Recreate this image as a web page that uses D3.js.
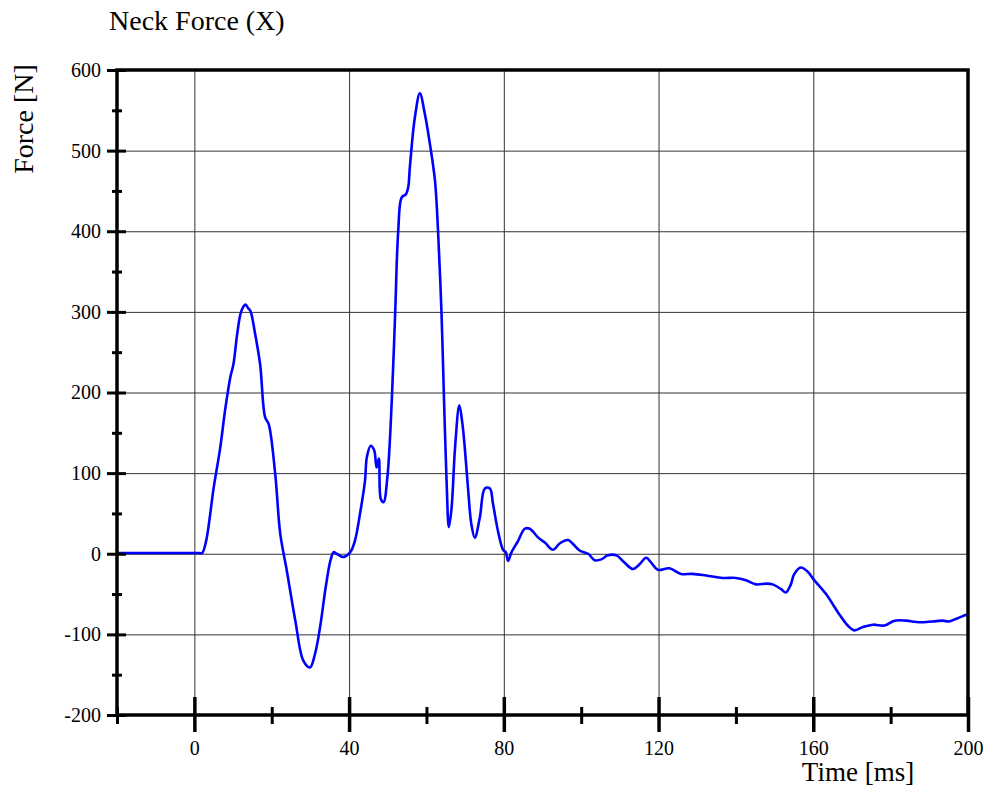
<!DOCTYPE html>
<html>
<head>
<meta charset="utf-8">
<script src="https://cdn.jsdelivr.net/npm/d3@7"></script>
<style>
    body { margin: 0; background: #fff; }
    text { font-family: 'Liberation Serif', 'Times New Roman', serif; fill: #000; }
    .axis path, .axis line { stroke: #000; }
</style>
</head>
<body>
<div id="chart"></div>
<script>

// DATA

const time_ms = [
    -20, -15, -10, -5, 0, 1, 2, 3, 5, 6.7, 8, 9.3, 10.1, 11, 11.9, 12.5, 13.2, 14, 14.5, 15.7, 17, 18.3, 19.2, 20.9, 22.2,
    23.9, 26.1, 28.2, 29.9, 31.2, 32.5, 34, 35.2, 36, 36.8, 38.5, 40.3, 41.5, 42.8, 44.1, 44.6, 45.6,
    46.5, 47.1, 47.7, 48.2, 48.9, 49.9, 51, 51.9, 52.7, 53.6, 54.7, 55.3, 55.7, 57, 58.3, 59.6, 60.9,
    62.2, 63, 63.9, 64.5, 65.2, 65.8, 66.5, 67.4, 68.5, 69.3, 69.9, 70.8, 71.6, 72.5, 73.8, 75.1, 76.4,
    77.2, 78.5, 79.8, 80.5, 81.1, 82, 83.7, 85.4, 86.7, 88.9, 90.6, 92.7, 94.5, 96.6, 97.9, 99.6, 101.8,
    103.5, 105.2, 106.9, 109.1, 111.2, 113.4, 115.1, 116.8, 118.1, 119.8, 122.8, 125.8, 128.8, 132.3,
    136.6, 140, 142.6, 145.2, 147.8, 149.5, 151.7, 152.9, 154.2, 155.1, 156.8, 158.5, 160.3, 163.3,
    166.7, 168.9, 170.6, 172.8, 175.4, 178.4, 181, 184, 187.4, 190.8, 193.4, 195.1, 197.3, 199.4, 200
];

const force_n = [
    1, 1, 1, 1, 1, 1, 1, 15, 82, 132, 180, 219, 235, 270, 297, 305, 309, 304, 301, 273, 235, 169, 161, 99, 25,
    -21, -83, -133, -141, -124, -91, -40, -8, 2, 0, -4, 2, 16, 49, 90, 120, 134,
    128, 107, 118, 68, 64, 95, 186, 297, 400, 442, 446, 455, 479, 541, 571, 545, 508,
    463, 400, 297, 198, 90, 33, 57, 132, 184, 161, 132, 78, 37, 20, 45, 81, 81,
    62, 28, 5, 2, -9, 2, 16, 31, 31, 20, 14, 5, 13, 17, 12, 4, 0,
    -8, -7, -2, -2, -11, -19, -13, -5, -11, -20, -18, -25, -25, -27,
    -30, -30, -33, -38, -37, -38, -44, -48, -38, -25, -17, -22, -33, -50,
    -75, -89, -95, -91, -88, -89, -83, -83, -85, -84, -83, -84, -80, -76, -75
];

const x_major = [0, 40, 80, 120, 160, 200];
const x_minor = [-20, 20, 60, 100, 140, 180];
const y_major = [-200, -100, 0, 100, 200, 300, 400, 500, 600];
const y_minor = [-150, -50, 50, 150, 250, 350, 450, 550];

// CONFIG

const width = 985,
    height = 787;

const plot = {
    left: 117,
    right: 968,
    top: 70,
    bottom: 715
};

const serif = "'Liberation Serif', 'Times New Roman', serif";

const svg = d3.select('#chart')
    .append('svg')
    .attr('width', width)
    .attr('height', height);

const x_scale = d3.scaleLinear()
    .domain([-20, 200])
    .range([plot.left, plot.right]);

const y_scale = d3.scaleLinear()
    .domain([-200, 600])
    .range([plot.bottom, plot.top]);

// GRID

svg.append('g')
    .selectAll('line')
    .data(x_major.filter((d) => d > -20 && d < 200))
    .enter()
    .append('line')
    .attr('x1', (d) => x_scale(d) + 0.5)
    .attr('x2', (d) => x_scale(d) + 0.5)
    .attr('y1', plot.top)
    .attr('y2', plot.bottom)
    .style('stroke', '#333')
    .style('stroke-width', 1);

svg.append('g')
    .selectAll('line')
    .data(y_major.filter((d) => d > -200 && d < 600))
    .enter()
    .append('line')
    .attr('y1', (d) => y_scale(d) + 0.5)
    .attr('y2', (d) => y_scale(d) + 0.5)
    .attr('x1', plot.left)
    .attr('x2', plot.right)
    .style('stroke', '#333')
    .style('stroke-width', 1);

// CURVE

const line = d3.line()
    .x((d) => x_scale(d[0]))
    .y((d) => y_scale(d[1]))
    .curve(d3.curveCatmullRom.alpha(0.5));

svg.append('path')
    .datum(d3.zip(time_ms, force_n))
    .attr('d', line)
    .style('fill', 'none')
    .style('stroke', '#0000ff')
    .style('stroke-width', 2.6)
    .style('stroke-linejoin', 'round');

// FRAME

svg.append('rect')
    .attr('x', plot.left)
    .attr('y', plot.top)
    .attr('width', plot.right - plot.left)
    .attr('height', plot.bottom - plot.top)
    .style('fill', 'none')
    .style('stroke', '#000')
    .style('stroke-width', 3.5);

// TICKS

const tick_group = (axis, tx, ty, w) => {
    const g = svg.append('g')
        .attr('class', 'axis')
        .attr('transform', `translate(${tx}, ${ty})`)
        .call(axis);
    g.select('.domain').remove();
    g.attr('font-family', null);
    g.selectAll('line').style('stroke-width', w);
    g.selectAll('text')
        .style('font-family', serif)
        .style('font-size', '20px');
    return g;
}

// y major: out 10, in 9
tick_group(
    d3.axisLeft(y_scale).tickValues(y_major).tickSizeInner(10).tickSizeOuter(0).tickPadding(6).tickFormat((d) => String(d)),
    plot.left, 0, 3);

tick_group(d3.axisRight(y_scale).tickValues(y_major).tickSize(9).tickFormat(''), plot.left, 0, 3);
tick_group(d3.axisLeft(y_scale).tickValues(y_minor).tickSize(5).tickFormat(''), plot.left, 0, 3);
tick_group(d3.axisRight(y_scale).tickValues(y_minor).tickSize(5).tickFormat(''), plot.left, 0, 3);

// x major: up 18, down 17
tick_group(
    d3.axisBottom(x_scale).tickValues(x_major).tickSizeInner(17).tickSizeOuter(0).tickPadding(9).tickFormat((d) => String(d)),
    0, plot.bottom, 3.5);

tick_group(d3.axisTop(x_scale).tickValues(x_major).tickSize(18).tickFormat(''), 0, plot.bottom, 3.5);
tick_group(d3.axisBottom(x_scale).tickValues(x_minor).tickSize(9).tickFormat(''), 0, plot.bottom, 3);
tick_group(d3.axisTop(x_scale).tickValues(x_minor).tickSize(8).tickFormat(''), 0, plot.bottom, 3);

// LABELS

svg.append('text')
    .attr('x', 109)
    .attr('y', 30)
    .style('font-size', '28px')
    .text('Neck Force (X)');

svg.append('text')
    .attr('x', 858)
    .attr('y', 781)
    .style('text-anchor', 'middle')
    .style('font-size', '27px')
    .text('Time [ms]');

svg.append('text')
    .attr('x', -119)
    .attr('y', 33)
    .attr('transform', 'rotate(-90)')
    .style('text-anchor', 'middle')
    .style('font-size', '28px')
    .text('Force [N]');

</script>
</body>
</html>
